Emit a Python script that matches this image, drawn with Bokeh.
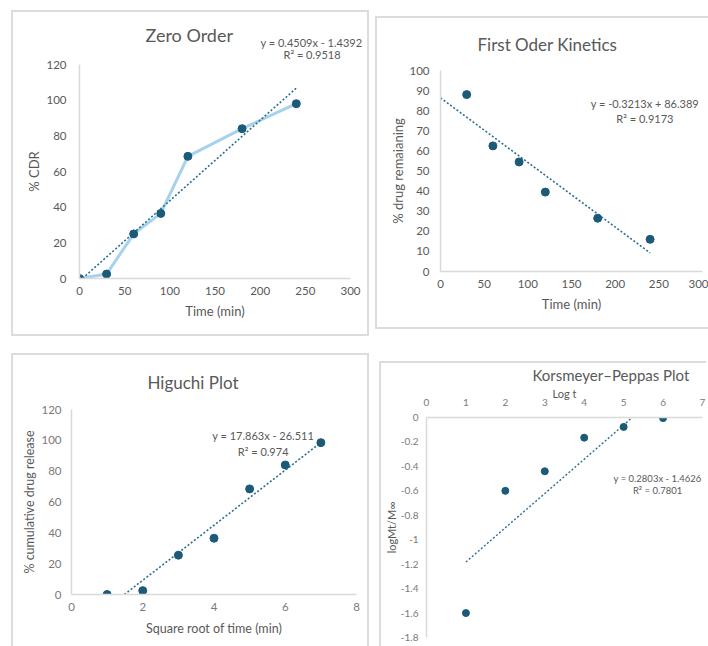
from bokeh.plotting import figure
from bokeh.layouts import column, row
from bokeh.models import Range1d, FixedTicker, Label, Title, CustomJSTickFormatter
from bokeh.embed import file_html
from bokeh.resources import INLINE

# ---------------- data ----------------
time_min = [0, 30, 60, 90, 120, 180, 240]
cdr = [0, 2.5, 25, 36.5, 68.5, 84, 98]

fo_time = [30, 60, 90, 120, 180, 240]
remaining = [88, 62.5, 54.5, 39.5, 26.5, 16]

hig_x = [1, 2, 3, 4, 5, 6, 7]
hig_y = [0, 2.5, 25.5, 36.5, 68.5, 84, 98.5]

kp_x = [1, 2, 3, 4, 5, 6]
kp_y = [-1.6, -0.6, -0.44, -0.165, -0.077, -0.005]

# trendline coefficients (from the labels)
zo_m, zo_b, zo_r2 = 0.4509, -1.4392, "0.9518"
fo_m, fo_b, fo_r2 = -0.3213, 86.389, "0.9173"
hi_m, hi_b, hi_r2 = 17.863, -26.511, "0.974"
kp_m, kp_b, kp_r2 = 0.2803, -1.4626, "0.7801"

FONT = "Lato"
TXT = "#595959"
AX = "#d9d9d9"
MK = "#1b5a78"
TREND = "#2a6f8f"
LINE = "#a6d2ee"
BC = "2px solid #dcdcdc"


def make_fig(fw, fh, xr, yr, xticks, yticks, left, right, top, bottom,
             xlabel, ylabel, border, x_loc="below", tick_size="11.5px",
             label_size="13px", tick_color=TXT):
    p = figure(frame_width=fw, frame_height=fh, x_range=Range1d(*xr), y_range=Range1d(*yr),
               output_backend="svg", toolbar_location=None, title=None,
               x_axis_location=x_loc,
               min_border_left=left, min_border_right=right,
               min_border_top=top, min_border_bottom=bottom,
               styles=border)
    p.outline_line_color = None
    p.grid.visible = False
    p.background_fill_color = "white"
    p.border_fill_color = "white"
    for ax, ticks, lab in ((p.xaxis[0], xticks, xlabel), (p.yaxis[0], yticks, ylabel)):
        ax.ticker = FixedTicker(ticks=ticks)
        ax.axis_line_color = AX
        ax.axis_line_width = 1.5
        ax.major_tick_line_color = None
        ax.minor_tick_line_color = None
        ax.major_label_text_font = FONT
        ax.major_label_text_font_size = tick_size
        ax.major_label_text_color = tick_color
        ax.axis_label = lab
        ax.axis_label_text_font = FONT
        ax.axis_label_text_font_style = "normal"
        ax.axis_label_text_font_size = label_size
        ax.axis_label_text_color = TXT
        ax.major_label_standoff = 7
        ax.axis_label_standoff = 5
    p.yaxis[0].axis_label_standoff = 1
    if x_loc == "below":
        p.xaxis[0].major_label_standoff = 2
    return p


def add_title(p, text, size, offset, standoff):
    p.add_layout(Title(text=text, align="left", offset=offset, vertical_align="middle",
                       standoff=standoff, text_font=FONT, text_font_size=size,
                       text_font_style="normal", text_color=TXT), "above")


def add_text(p, x, y, text, size, color=TXT):
    p.add_layout(Label(x=x, y=y, text=text, text_font=FONT, text_font_size=size,
                       text_color=color, text_align="center", text_baseline="middle"))


full_border = {"border": BC, "box-sizing": "content-box"}
nr_border = {"border-top": BC, "border-left": BC, "border-bottom": BC, "box-sizing": "content-box"}
open_border = {"border-top": BC, "border-left": BC, "border-right": BC, "box-sizing": "content-box"}
open2_border = {"border-top": BC, "border-left": BC, "box-sizing": "content-box"}

# shared border sizes per row (plots in a row line up their frames)
T1, B1 = 52, 60
T2, B2 = 54, 54

# ---------- Zero order ----------
p1 = make_fig(267, 210, (0, 300), (0, 120), [0, 50, 100, 150, 200, 250, 300],
              [0, 20, 40, 60, 80, 100, 120], 66, 21, T1, B1,
              "Time (min)", "% CDR", full_border)
p1.margin = (10, 0, 0, 11)
p1.line(time_min, cdr, line_color=LINE, line_width=3)
zx = [0, 240]
p1.line(zx, [zo_m * v + zo_b for v in zx], line_color=TREND, line_width=1.6, line_dash="2 2")
p1.scatter(time_min, cdr, size=8, color=MK)
add_title(p1, "R² = " + zo_r2, "11px", 204, 6)
add_title(p1, "y = 0.4509x - 1.4392", "11px", 181, -13)
add_title(p1, "Zero Order", "18px", 66, -11)

# ---------- First order ----------
p2 = make_fig(260, 197, (0, 300), (0, 100), [0, 50, 100, 150, 200, 250, 300],
              list(range(0, 101, 10)), 63, 8, T1, B1,
              "Time (min)", "% drug remaianing", nr_border)
p2.margin = (16, 0, 0, 6)
p2.yaxis[0].major_label_standoff = 5
p2.yaxis[0].axis_label_standoff = 0
fx = [0, 240]
p2.line(fx, [fo_m * v + fo_b for v in fx], line_color=TREND, line_width=1.6, line_dash="2 2")
p2.scatter(fo_time, remaining, size=8, color=MK)
add_title(p2, "First Oder Kinetics", "17px", 37, 29)
add_text(p2, 234, 83.8, "y = -0.3213x + 86.389", "11px")
add_text(p2, 234, 76.1, "R² = " + fo_r2, "11px")

# ---------- Higuchi ----------
p3 = make_fig(281, 183, (0, 8), (0, 120), [0, 2, 4, 6, 8],
              [0, 20, 40, 60, 80, 100, 120], 58, 15, T2, B2,
              "Square root of time (min)", "% cumulative drug release", open_border,
              label_size="12.5px", tick_color="#7a7a7a")
p3.margin = (17, 0, 0, 11)
p3.yaxis[0].major_label_standoff = 4
p3.yaxis[0].axis_label_standoff = 1
p3.xaxis[0].axis_label_standoff = 7
hx = [-hi_b / hi_m, 7]
p3.line(hx, [hi_m * v + hi_b for v in hx], line_color=TREND, line_width=1.6, line_dash="2 2")
p3.scatter(hig_x, hig_y, size=8, color=MK)
add_title(p3, "Higuchi Plot", "17px", 76, 31)
add_text(p3, 5.38, 103, "y = 17.863x - 26.511", "11px")
add_text(p3, 5.38, 93, "R² = " + hi_r2, "11px")

# ---------- Korsmeyer-Peppas ----------
p4 = make_fig(274, 218, (0, 7), (-1.8, 0), list(range(0, 8)),
              [-1.8, -1.6, -1.4, -1.2, -1.0, -0.8, -0.6, -0.4, -0.2, 0], 44, 6, T2, B2,
              "Log t", "logMt/M∞", open2_border, x_loc="above",
              tick_size="10px", label_size="11px", tick_color="#7a7a7a")
p4.margin = (25, 0, 0, 10)
p4.yaxis[0].formatter = CustomJSTickFormatter(
    code="return Math.abs(tick) < 1e-9 ? '0' : String(parseFloat(tick.toFixed(1)));")
p4.xaxis[0].major_label_standoff = 6
p4.xaxis[0].axis_label_standoff = -4
p4.yaxis[0].major_label_standoff = 2
p4.yaxis[0].axis_label_standoff = 0
kx = [1, -kp_b / kp_m]
p4.line(kx, [kp_m * v + kp_b for v in kx], line_color=TREND, line_width=1.4, line_dash="2 2")
p4.scatter(kp_x, kp_y, size=7, color=MK)
add_title(p4, "Korsmeyer–Peppas Plot", "15px", 106, -3)
add_text(p4, 5.86, -0.495, "y = 0.2803x - 1.4626", "9.5px")
add_text(p4, 5.86, -0.594, "R² = " + kp_r2, "9.5px")

layout = column(row(p1, p2), row(p3, p4))
open("out.html", "w").write(file_html(layout, INLINE))
